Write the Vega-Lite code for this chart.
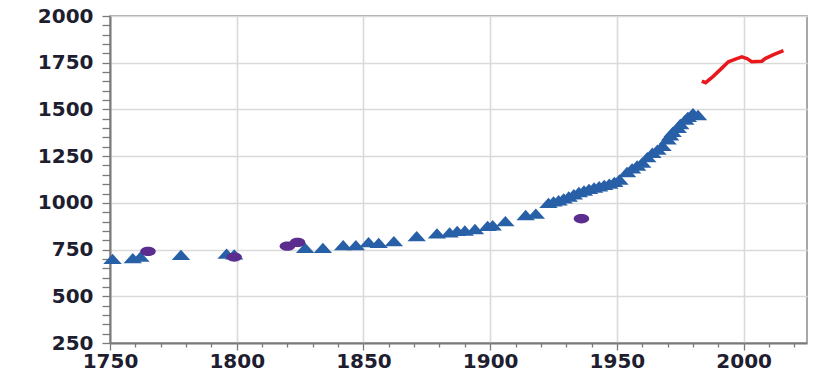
{
  "$schema": "https://vega.github.io/schema/vega-lite/v6.json",
  "autosize": {"type": "none"},
  "padding": {"left": 110, "top": 16, "right": 7, "bottom": 37},
  "width": 697,
  "height": 327,
  "background": "white",
  "config": {
    "view": {"stroke": "#8a8a8a", "strokeWidth": 1.5},
    "axis": {
      "labelFont": "DejaVu Sans",
      "labelFontWeight": "bold",
      "labelFontSize": 20,
      "labelColor": "#1e1e30",
      "gridColor": "#dadada",
      "gridWidth": 1.6,
      "domainColor": "#7a7a7a",
      "domainWidth": 2,
      "tickColor": "#7a7a7a",
      "tickWidth": 1.3,
      "title": null
    }
  },
  "datasets": {
    "blue": [
      {"year": 1751, "value": 700}, {"year": 1759, "value": 704}, {"year": 1762, "value": 712},
      {"year": 1778, "value": 722}, {"year": 1796, "value": 728}, {"year": 1799, "value": 724},
      {"year": 1827, "value": 759}, {"year": 1834, "value": 759}, {"year": 1842, "value": 774},
      {"year": 1847, "value": 774}, {"year": 1852, "value": 790}, {"year": 1856, "value": 786},
      {"year": 1862, "value": 795}, {"year": 1871, "value": 822}, {"year": 1879, "value": 837},
      {"year": 1884, "value": 842}, {"year": 1887, "value": 850}, {"year": 1890, "value": 852},
      {"year": 1894, "value": 860}, {"year": 1899, "value": 877}, {"year": 1901, "value": 880},
      {"year": 1906, "value": 902}, {"year": 1914, "value": 935}, {"year": 1918, "value": 942},
      {"year": 1923, "value": 1000}, {"year": 1925, "value": 1008}, {"year": 1927, "value": 1014},
      {"year": 1929, "value": 1024}, {"year": 1931, "value": 1034}, {"year": 1933, "value": 1046},
      {"year": 1935, "value": 1058}, {"year": 1937, "value": 1066}, {"year": 1939, "value": 1075},
      {"year": 1941, "value": 1082}, {"year": 1943, "value": 1089}, {"year": 1945, "value": 1096},
      {"year": 1947, "value": 1103}, {"year": 1949, "value": 1112}, {"year": 1951, "value": 1125},
      {"year": 1954, "value": 1165}, {"year": 1956, "value": 1185}, {"year": 1958, "value": 1200},
      {"year": 1960, "value": 1215}, {"year": 1962, "value": 1245}, {"year": 1964, "value": 1268},
      {"year": 1966, "value": 1285}, {"year": 1968, "value": 1305}, {"year": 1970, "value": 1340},
      {"year": 1971, "value": 1362}, {"year": 1972, "value": 1380}, {"year": 1974, "value": 1402},
      {"year": 1975, "value": 1422}, {"year": 1977, "value": 1445}, {"year": 1978, "value": 1460},
      {"year": 1980, "value": 1480}, {"year": 1982, "value": 1470}
    ],
    "purple": [
      {"year": 1765, "value": 740}, {"year": 1799, "value": 710}, {"year": 1820, "value": 768},
      {"year": 1824, "value": 788}, {"year": 1936, "value": 915}
    ],
    "red": [
      {"year": 1983.5, "value": 1652}, {"year": 1985, "value": 1643}, {"year": 1988, "value": 1677},
      {"year": 1991.4, "value": 1721}, {"year": 1994, "value": 1755}, {"year": 1997.3, "value": 1772},
      {"year": 1999.3, "value": 1781}, {"year": 2001.3, "value": 1772}, {"year": 2003.2, "value": 1755},
      {"year": 2007.2, "value": 1758}, {"year": 2008.5, "value": 1772}, {"year": 2011.8, "value": 1793},
      {"year": 2015.7, "value": 1815}
    ]
  },
  "encoding": {
    "x": {
      "field": "year", "type": "quantitative",
      "scale": {"domain": [1750, 2025], "nice": false, "zero": false},
      "axis": {
        "values": [1750,1760,1770,1780,1790,1800,1810,1820,1830,1840,1850,1860,1870,1880,1890,1900,1910,1920,1930,1940,1950,1960,1970,1980,1990,2000,2010,2020],
        "labelExpr": "datum.value % 50 === 0 ? datum.value : ''",
        "format": "d",
        "tickSize": {"condition": {"test": "datum.value % 50 === 0", "value": 7}, "value": 4},
        "gridOpacity": {"condition": {"test": "datum.value % 50 === 0", "value": 1}, "value": 0},
        "labelPadding": 1,
        "labelFlush": false,
        "labelOverlap": false
      }
    },
    "y": {
      "field": "value", "type": "quantitative",
      "scale": {"domain": [250, 2000], "nice": false, "zero": false},
      "axis": {
        "values": [250,300,350,400,450,500,550,600,650,700,750,800,850,900,950,1000,1050,1100,1150,1200,1250,1300,1350,1400,1450,1500,1550,1600,1650,1700,1750,1800,1850,1900,1950,2000],
        "labelExpr": "datum.value % 250 === 0 ? datum.value : ''",
        "format": "d",
        "tickSize": 8,
        "gridOpacity": {"condition": {"test": "datum.value % 250 === 0", "value": 1}, "value": 0},
        "labelPadding": 9,
        "labelFlush": false,
        "labelOverlap": false
      }
    }
  },
  "layer": [
    {
      "data": {"name": "blue"},
      "mark": {"type": "point", "filled": true, "opacity": 1, "color": "#2860a8",
               "shape": "M0,-0.56L1,0.56L-1,0.56Z", "size": 340}
    },
    {
      "data": {"name": "purple"},
      "mark": {"type": "point", "filled": true, "opacity": 1, "color": "#5a2d8e",
               "shape": "M-1,0A1,0.6 0 1,1 1,0A1,0.6 0 1,1 -1,0Z", "size": 240}
    },
    {
      "data": {"name": "red"},
      "mark": {"type": "line", "color": "#e8181c", "strokeWidth": 3.5}
    }
  ]
}
